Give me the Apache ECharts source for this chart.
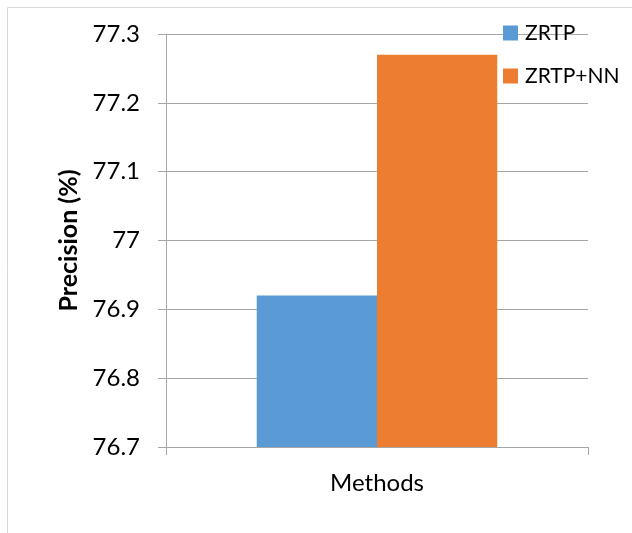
<!DOCTYPE html>
<html><head><meta charset="utf-8">
<script src="https://cdn.jsdelivr.net/npm/echarts@6/dist/echarts.min.js"></script>
<style>html,body{margin:0;padding:0;background:#fff}#c{width:632px;height:533px}</style>
</head><body><div id="c"></div>
<script>
const categories = ['Methods'];
const seriesNames = ['ZRTP', 'ZRTP+NN'];
const zrtpValues = [76.92];
const zrtpNnValues = [77.27];
const yTicks = { min: 76.7, max: 77.3, interval: 0.1 };
const colors = ['#5B9BD5', '#ED7D31'];
const FONT = 'Lato';

const chart = echarts.init(document.getElementById('c'));
chart.setOption({
  animation: false,
  textStyle: { fontFamily: FONT },
  graphic: [
    { type: 'rect', shape: { x: 7.5, y: 7.5, width: 640, height: 540 }, style: { fill: 'none', stroke: '#d9d9d9', lineWidth: 1 }, silent: true }
  ],
  legend: {
    orient: 'vertical', left: 498, top: 17, itemWidth: 15, itemHeight: 15, itemGap: 21,
    icon: 'rect',
    textStyle: { fontSize: 21, lineHeight: 22, color: '#000', fontFamily: FONT, padding: [0, 0, 0, 2] },
    data: seriesNames
  },
  grid: { left: 166, right: 44, top: 34, bottom: 86, containLabel: false },
  xAxis: {
    type: 'category', data: categories,
    axisLine: { lineStyle: { color: '#a6a6a6' } },
    axisTick: { show: true, length: 8, lineStyle: { color: '#a6a6a6' }, alignWithLabel: false },
    axisLabel: { fontSize: 24, color: '#000', margin: 24, fontFamily: FONT }
  },
  yAxis: {
    type: 'value', min: yTicks.min, max: yTicks.max, interval: yTicks.interval,
    name: 'Precision (%)', nameLocation: 'middle', nameGap: 84, nameRotate: 90,
    nameTextStyle: { fontSize: 25, fontWeight: 'bold', color: '#000', fontFamily: FONT },
    axisLine: { show: true, lineStyle: { color: '#a6a6a6' } },
    axisTick: { show: true, length: 8, lineStyle: { color: '#a6a6a6' } },
    splitLine: { lineStyle: { color: '#a6a6a6' } },
    axisLabel: { fontSize: 24, color: '#000', margin: 26, fontFamily: FONT,
      formatter: v => String(parseFloat(v.toFixed(1))) }
  },
  series: [
    { name: seriesNames[0], type: 'bar', data: zrtpValues, itemStyle: { color: colors[0] }, barGap: '0%', barCategoryGap: '43%' },
    { name: seriesNames[1], type: 'bar', data: zrtpNnValues, itemStyle: { color: colors[1] }, barGap: '0%', barCategoryGap: '43%' }
  ]
});
</script></body></html>
